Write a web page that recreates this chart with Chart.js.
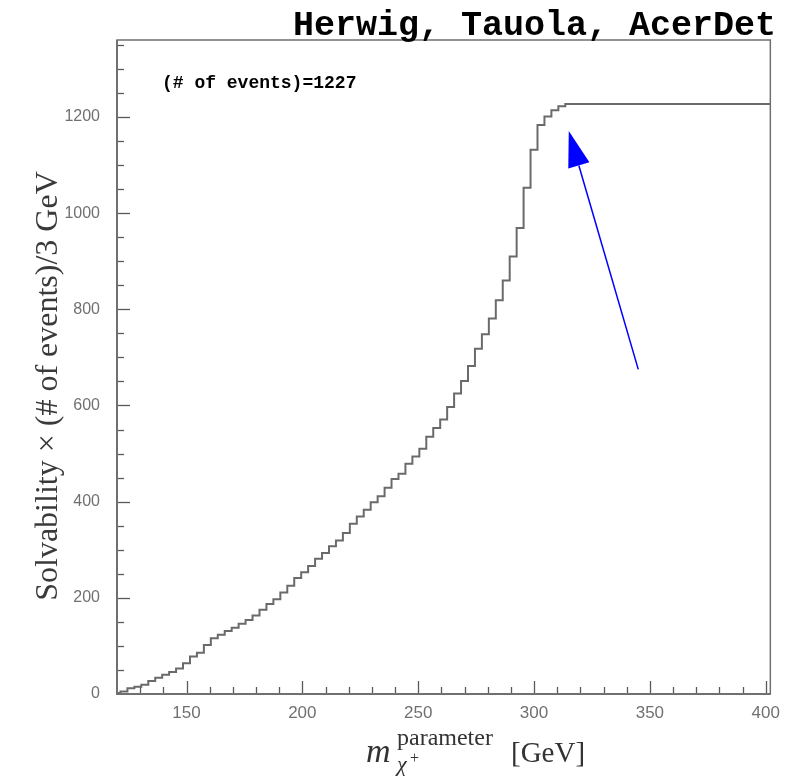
<!DOCTYPE html>
<html>
<head>
<meta charset="utf-8">
<script src="https://cdn.jsdelivr.net/npm/chart.js@4.4.1/dist/chart.umd.min.js"></script>
<style>
  html, body { margin: 0; padding: 0; background: #fff; }
  #wrap { width: 789px; height: 782px; }
</style>
</head>
<body>
<div id="wrap"><canvas id="myChart"></canvas></div>
<script>
// bin positions (GeV), 3 GeV bins
const massBins = [
  120, 123, 126, 129, 132, 135, 138, 141, 144, 147,
  150, 153, 156, 159, 162, 165, 168, 171, 174, 177,
  180, 183, 186, 189, 192, 195, 198, 201, 204, 207,
  210, 213, 216, 219, 222, 225, 228, 231, 234, 237,
  240, 243, 246, 249, 252, 255, 258, 261, 264, 267,
  270, 273, 276, 279, 282, 285, 288, 291, 294, 297,
  300, 303, 306, 309, 312, 315, 318, 321, 324, 327,
  330, 333, 336, 339, 342, 345, 348, 351, 354, 357,
  360, 363, 366, 369, 372, 375, 378, 381, 384, 387,
  390, 393, 396, 399, 402
];

// solvability x (# of events) per bin
const solvability = [
  2, 5, 12, 15, 19, 27, 34, 40, 46, 53,
  64, 78, 86, 102, 116, 123, 131, 138, 146, 154,
  163, 175, 187, 197, 211, 225, 241, 253, 266, 281,
  293, 307, 319, 335, 354, 369, 383, 399, 411, 429,
  447, 458, 479, 494, 510, 535, 553, 571, 597, 625,
  651, 682, 718, 748, 781, 819, 860, 910, 969, 1053,
  1132, 1183, 1201, 1214, 1222, 1227, 1227, 1227, 1227, 1227,
  1227, 1227, 1227, 1227, 1227, 1227, 1227, 1227, 1227, 1227,
  1227, 1227, 1227, 1227, 1227, 1227, 1227, 1227, 1227, 1227,
  1227, 1227, 1227, 1227, 1227
];

const xTicks = [150, 200, 250, 300, 350, 400];
const yTicks = [0, 200, 400, 600, 800, 1000, 1200];
const xRange = [120, 402];
const yRange = [0, 1360];
const nEvents = 1227;
const arrowTail = { x: 345, y: 675 };
const arrowTip = { x: 315, y: 1171 };

const myChartElement = document.getElementById('myChart');

let histData = massBins.map((m, i) => ({ x: m, y: solvability[i] }));

// frame, inward ticks, texts and arrow
const decorations = {
  id: 'decorations',
  afterDraw(chart) {
    const ctx = chart.ctx;
    const area = chart.chartArea;
    const xs = chart.scales.x;
    const ys = chart.scales.y;
    ctx.save();

    // ticks inside the frame
    ctx.strokeStyle = '#5a5a5a';
    ctx.lineWidth = 1.3;
    for (let v = 130; v <= 400; v += 10) {
      let px = Math.round(xs.getPixelForValue(v)) + 0.5;
      let len = v % 50 === 0 ? 13 : 7;
      ctx.beginPath();
      ctx.moveTo(px, area.bottom);
      ctx.lineTo(px, area.bottom - len);
      ctx.stroke();
    }
    for (let v = 50; v <= 1350; v += 50) {
      let py = Math.round(ys.getPixelForValue(v)) + 0.5;
      let len = v % 200 === 0 ? 13 : 7;
      ctx.beginPath();
      ctx.moveTo(area.left, py);
      ctx.lineTo(area.left + len, py);
      ctx.stroke();
    }

    // frame
    ctx.strokeStyle = '#707070';
    ctx.lineWidth = 1.5;
    ctx.strokeRect(area.left, area.top, area.right - area.left, area.bottom - area.top);
    ctx.lineWidth = 2;
    ctx.beginPath();
    ctx.moveTo(area.left, area.top);
    ctx.lineTo(area.left, area.bottom);
    ctx.lineTo(area.right, area.bottom);
    ctx.stroke();

    // title
    ctx.fillStyle = '#000';
    ctx.font = 'bold 35px "Liberation Mono"';
    ctx.textAlign = 'right';
    ctx.textBaseline = 'alphabetic';
    ctx.fillText('Herwig, Tauola, AcerDet', 776, 35);

    // events label
    ctx.textAlign = 'left';
    ctx.font = 'bold 18px "Liberation Mono"';
    ctx.fillText('(# of events)=' + nEvents, 162, 88);

    // y axis title
    ctx.save();
    ctx.translate(46, 386);
    ctx.rotate(-Math.PI / 2);
    ctx.textAlign = 'center';
    ctx.fillStyle = '#3a3a3a';
    ctx.font = '32px "Liberation Serif"';
    ctx.fillText('Solvability \u00d7 (# of events)/3 GeV', 0, 11);
    ctx.restore();

    // x axis title
    ctx.fillStyle = '#333';
    ctx.font = 'italic 34px "Liberation Serif"';
    ctx.fillText('m', 366, 762);
    ctx.font = '24px "Liberation Serif"';
    ctx.fillText('parameter', 397, 745);
    ctx.font = 'italic 22px "Liberation Serif"';
    ctx.fillText('\u03c7', 397, 771);
    ctx.font = '16px "Liberation Serif"';
    ctx.fillText('+', 410, 763);
    ctx.font = '29px "Liberation Serif"';
    ctx.fillText('[GeV]', 511, 762);

    // blue arrow
    let tx = xs.getPixelForValue(arrowTip.x);
    let ty = ys.getPixelForValue(arrowTip.y);
    let sx = xs.getPixelForValue(arrowTail.x);
    let sy = ys.getPixelForValue(arrowTail.y);
    let ang = Math.atan2(ty - sy, tx - sx);
    let headLen = 36;
    let headHalf = 11;
    let bx = tx - headLen * Math.cos(ang);
    let by = ty - headLen * Math.sin(ang);
    ctx.strokeStyle = '#0000ff';
    ctx.fillStyle = '#0000ff';
    ctx.lineWidth = 1.5;
    ctx.beginPath();
    ctx.moveTo(sx, sy);
    ctx.lineTo(bx, by);
    ctx.stroke();
    ctx.beginPath();
    ctx.moveTo(tx, ty);
    ctx.lineTo(bx + headHalf * Math.sin(ang), by - headHalf * Math.cos(ang));
    ctx.lineTo(bx - headHalf * Math.sin(ang), by + headHalf * Math.cos(ang));
    ctx.closePath();
    ctx.fill();

    ctx.restore();
  }
};

let myDataset = [
  {
    label: 'Solvability',
    data: histData,
    stepped: 'middle',
    borderColor: '#6a6a6a',
    borderWidth: 2,
    pointRadius: 0,
    fill: false,
    tension: 0
  }
];

let myOptions = {
  responsive: true,
  maintainAspectRatio: false,
  animation: false,
  layout: {
    padding: { top: 40, right: 16, left: 0, bottom: 0 }
  },
  plugins: {
    legend: { display: false },
    title: { display: false },
    tooltip: { enabled: false }
  },
  scales: {
    x: {
      type: 'linear',
      min: xRange[0],
      max: xRange[1],
      grid: { display: false, drawTicks: false },
      border: { display: false },
      ticks: {
        color: '#707070',
        font: { family: 'Liberation Sans', size: 17 },
        padding: 9,
        maxRotation: 0,
        autoSkip: false,
        callback: v => String(v)
      },
      afterBuildTicks: scale => { scale.ticks = xTicks.map(v => ({ value: v })); },
      afterFit: scale => { scale.height = 88; }
    },
    y: {
      min: yRange[0],
      max: yRange[1],
      grid: { display: false, drawTicks: false },
      border: { display: false },
      ticks: {
        color: '#707070',
        font: { family: 'Liberation Sans', size: 16 },
        padding: 17,
        autoSkip: false,
        callback: v => String(v)
      },
      afterBuildTicks: scale => { scale.ticks = yTicks.map(v => ({ value: v })); },
      afterFit: scale => { scale.width = 117; }
    }
  }
};

let myChart = new Chart(myChartElement, {
  type: 'line',
  data: { datasets: myDataset },
  options: myOptions,
  plugins: [decorations]
});
</script>
</body>
</html>
